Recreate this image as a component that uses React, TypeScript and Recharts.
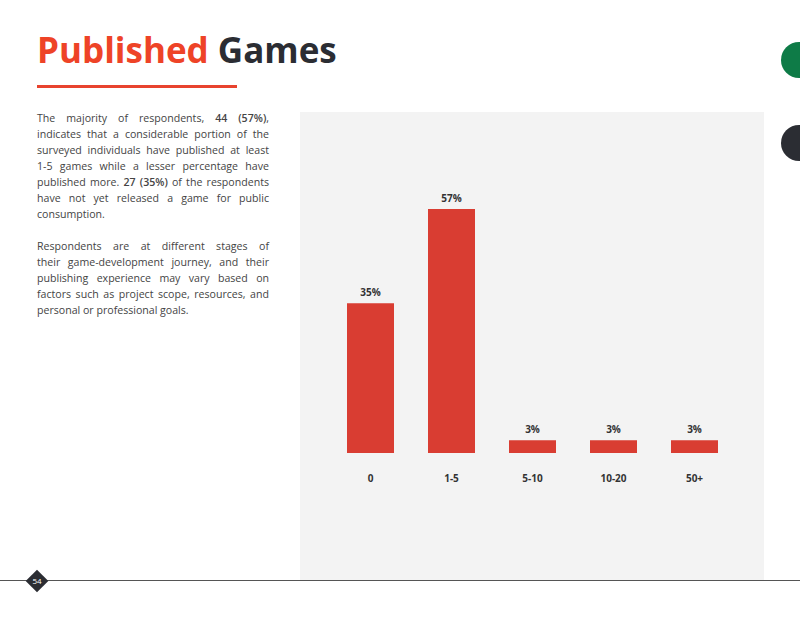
import { BarChart, Bar, XAxis, YAxis, LabelList } from "recharts";

const categories = ["0", "1-5", "5-10", "10-20", "50+"];
const shares = [35, 57, 3, 3, 3];

const chartData = categories.map((name, i) => ({ name, value: shares[i] }));

const RED = "#d93d32";
const TITLE_RED = "#ee4327";
const DARK = "#2b2d33";
const FONT = "'Open Sans', 'Noto Sans', sans-serif";

function PublishedChart() {
  return (
    <BarChart
      width={464}
      height={468}
      data={chartData}
      margin={{ top: 97, right: 29, left: 30, bottom: 97 }}
      style={{ background: "#f3f3f3" }}
    >
      <YAxis hide domain={[0, 57]} />
      <XAxis
        dataKey="name"
        axisLine={false}
        tickLine={false}
        tickMargin={16}
        interval={0}
        tick={{ fontSize: 10, fontWeight: 700, fill: "#333", fontFamily: FONT }}
      />
      <Bar dataKey="value" fill={RED} barSize={47} isAnimationActive={false}>
        <LabelList
          dataKey="value"
          position="top"
          offset={7}
          formatter={(v: any) => `${v}%`}
          style={{ fontSize: 10, fontWeight: 700, fill: "#333", fontFamily: FONT }}
        />
      </Bar>
    </BarChart>
  );
}

const nw = { whiteSpace: "nowrap" as const };

export default function App() {
  return (
    <div
      style={{
        position: "absolute",
        left: 0,
        top: 0,
        width: 800,
        height: 618,
        background: "#fff",
        overflow: "hidden",
        fontFamily: FONT,
      }}
    >
      <div
        style={{
          position: "absolute",
          left: 37,
          top: 26,
          fontSize: 35,
          fontWeight: 700,
          lineHeight: "48px",
          whiteSpace: "nowrap",
        }}
      >
        <span style={{ color: TITLE_RED }}>Published</span>{" "}
        <span style={{ color: DARK }}>Games</span>
      </div>
      <div
        style={{
          position: "absolute",
          left: 37,
          top: 85,
          width: 200,
          height: 3,
          background: "#e8432e",
        }}
      />
      <div
        style={{
          position: "absolute",
          left: 37,
          top: 110,
          width: 232,
          fontSize: 10.6,
          lineHeight: "16px",
          color: "#444",
          textAlign: "justify",
        }}
      >
        <p style={{ margin: 0 }}>
          The majority of respondents, <b style={{ fontWeight: 600 }}>44 (57%)</b>, indicates
          that a considerable portion of the surveyed individuals have published at least{" "}
          <span style={nw}>1-5</span> games while a lesser percentage have published more.{" "}
          <b style={{ fontWeight: 600 }}>27 (35%)</b> of the respondents have not yet released a
          game for public consumption.
        </p>
        <p style={{ margin: "16px 0 0 0" }}>
          Respondents are at different stages of{" "}
          <span style={nw}>their game-development</span> journey, and their publishing
          experience may vary based on factors such as project scope, resources, and personal or
          professional goals.
        </p>
      </div>
      <div style={{ position: "absolute", left: 300, top: 112 }}>
        <PublishedChart />
      </div>
      <div
        style={{
          position: "absolute",
          left: 781,
          top: 42,
          width: 36,
          height: 36,
          borderRadius: "50%",
          background: "#0e7b47",
        }}
      />
      <div
        style={{
          position: "absolute",
          left: 781,
          top: 125,
          width: 36,
          height: 36,
          borderRadius: "50%",
          background: DARK,
        }}
      />
      <div
        style={{
          position: "absolute",
          left: 0,
          top: 580,
          width: 800,
          height: 1,
          background: "#555",
        }}
      />
      <div
        style={{
          position: "absolute",
          left: 29,
          top: 573,
          width: 16,
          height: 16,
          background: DARK,
          transform: "rotate(45deg)",
        }}
      />
      <div
        style={{
          position: "absolute",
          left: 27,
          top: 575,
          width: 20,
          textAlign: "center",
          fontSize: 8,
          lineHeight: "12px",
          color: "#fff",
        }}
      >
        54
      </div>
    </div>
  );
}
